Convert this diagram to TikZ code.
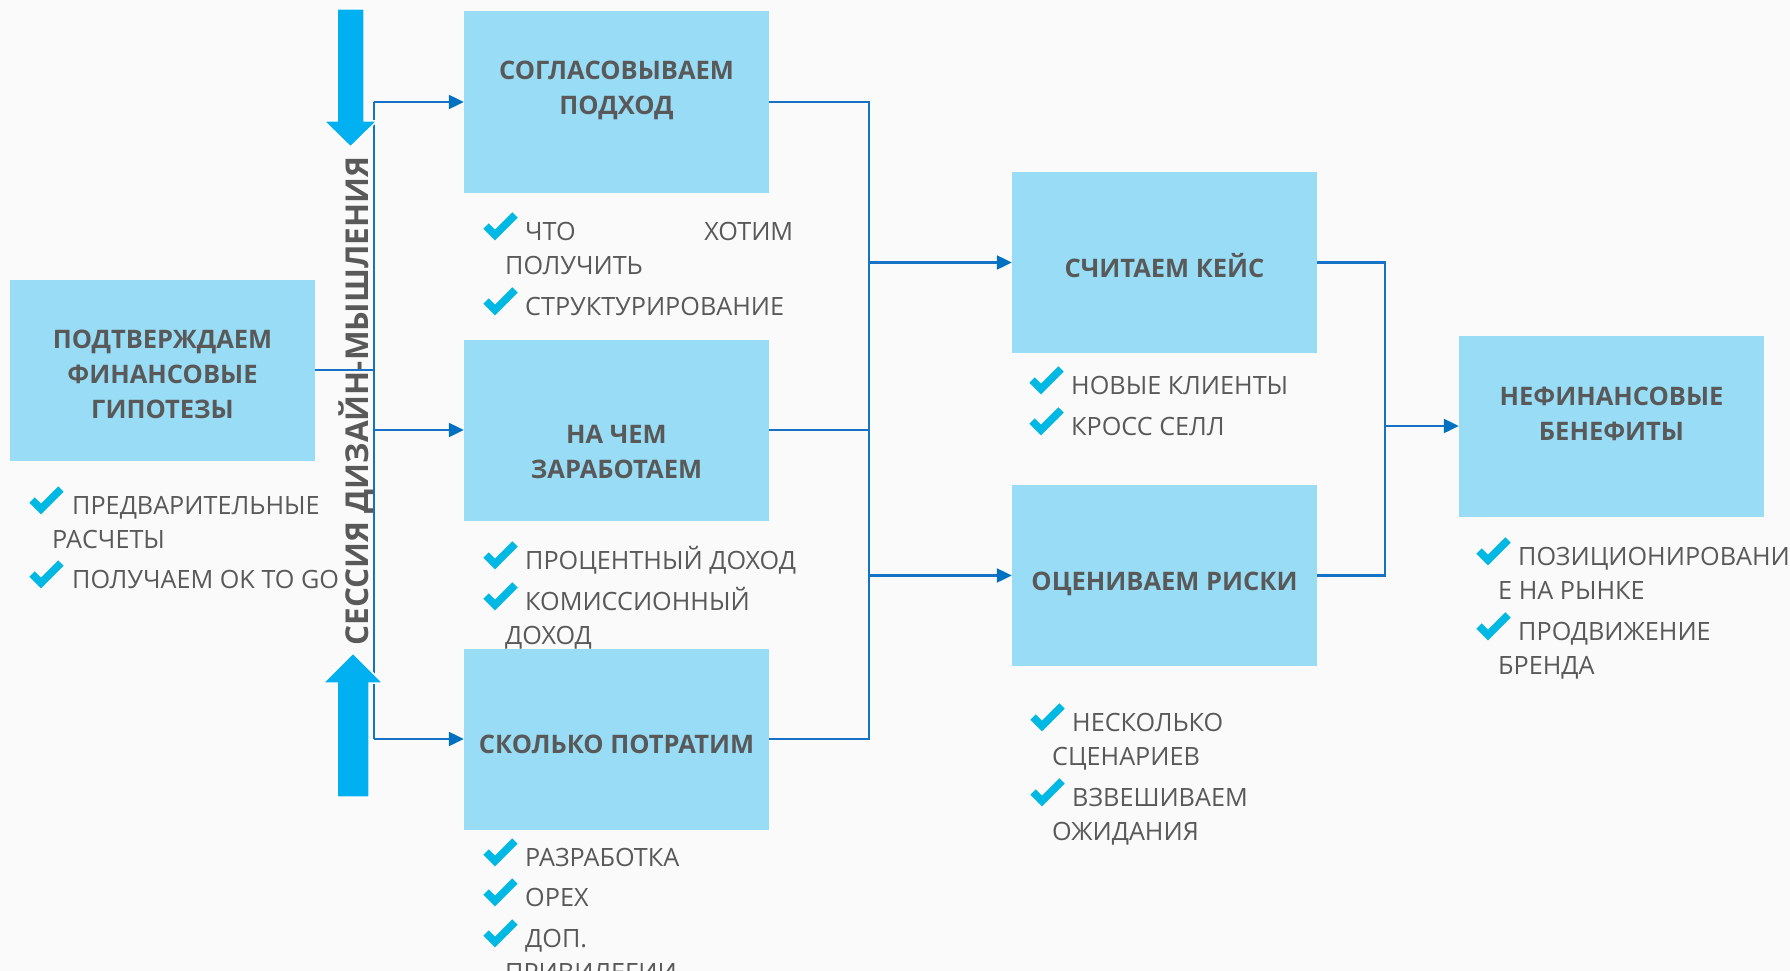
\documentclass[tikz,border=0pt]{standalone}
\usepackage{fontspec}
\setmainfont{Open Sans}
\usetikzlibrary{arrows.meta}
\definecolor{bgc}{HTML}{FAFAFA}
\definecolor{boxc}{HTML}{99DCF5}
\definecolor{txtc}{HTML}{595959}
\definecolor{linec}{HTML}{1672C4}
\definecolor{tipc}{HTML}{0070C0}
\definecolor{bigc}{HTML}{00B0F0}
\definecolor{chkc}{HTML}{00B8E4}
\newcommand\boxlines[1]{\vtop{\halign{\hfil##\hfil\cr#1\crcr}}}
\newcommand\itemlines[1]{\vtop{\halign{##\hfil\cr#1\crcr}}}
\newcommand\ind{\hspace*{20pt}}
\begin{document}
\begin{tikzpicture}[x=1pt,y=-1pt,
  box/.style={fill=boxc, minimum width=305pt, minimum height=181pt, inner sep=0pt, draw=none},
  boxtext/.style={anchor=base, inner sep=0pt, text=txtc, font=\fontsize{25.5}{35}\selectfont\bfseries},
  itemtext/.style={anchor=base west, inner sep=0pt, text=txtc, font=\fontsize{25.2}{34}\selectfont},
  conn/.style={draw=linec, line width=2.2pt},
  arr/.style={conn, -{Triangle[length=15pt,width=14pt,color=tipc]}},
  bigarrow/.style={fill=bigc, draw=white, line width=1.5pt},
  chk/.pic={\draw[chkc, line width=7.5pt, line join=miter] (3,13) -- (12,22) -- (32,2);}
]
\fill[bgc] (0,0) rectangle (1790,971);
\useasboundingbox (0,0) rectangle (1790,971);

% boxes
\node[box] (b0) at (162.5,370) {};
\node[box] (b1) at (616.5,102) {};
\node[box] (b2) at (616.5,430) {};
\node[box] (b3) at (616.5,739) {};
\node[box] (b4) at (1164.5,262.5) {};
\node[box] (b5) at (1164.5,575.5) {};
\node[box] (b6) at (1611.5,426) {};

% box labels
\node[boxtext] (t0) at (162.5,348) {\boxlines{ПОДТВЕРЖДАЕМ\cr ФИНАНСОВЫЕ\cr ГИПОТЕЗЫ}};
\node[boxtext] (t1) at (616.5,80) {\boxlines{СОГЛАСОВЫВАЕМ\cr ПОДХОД}};
\node[boxtext] (t2) at (616.5,443) {\boxlines{НА ЧЕМ\cr ЗАРАБОТАЕМ}};
\node[boxtext] (t3) at (616.5,753) {СКОЛЬКО ПОТРАТИМ};
\node[boxtext] (t4) at (1164.5,277) {СЧИТАЕМ КЕЙС};
\node[boxtext] (t5) at (1164.5,590) {ОЦЕНИВАЕМ РИСКИ};
\node[boxtext] (t6) at (1611.5,405) {\boxlines{НЕФИНАНСОВЫЕ\cr БЕНЕФИТЫ}};

% lists
\node[itemtext] (l0a) at (52,514) {\itemlines{\ind ПРЕДВАРИТЕЛЬНЫЕ\cr РАСЧЕТЫ}};
\node[itemtext] (l0b) at (52,588) {\ind ПОЛУЧАЕМ OK TO GO};
\pic at (29,487) {chk}; \pic at (29,561) {chk};

\node[itemtext] (l1a) at (505,240) {\itemlines{\ind\makebox[268pt][l]{ЧТО\hfill ХОТИМ}\cr ПОЛУЧИТЬ}};
\node[itemtext] (l1b) at (505,315) {\ind СТРУКТУРИРОВАНИЕ};
\pic at (483,213) {chk}; \pic at (483,288) {chk};

\node[itemtext] (l2a) at (505,569) {\ind ПРОЦЕНТНЫЙ ДОХОД};
\node[itemtext] (l2b) at (505,610) {\itemlines{\ind КОМИССИОННЫЙ\cr ДОХОД}};
\pic at (483,542) {chk}; \pic at (483,583) {chk};

\node[itemtext] (l3a) at (505,866) {\ind РАЗРАБОТКА};
\node[itemtext] (l3b) at (505,906) {\ind OPEX};
\node[itemtext] (l3c) at (505,947) {\itemlines{\ind ДОП.\cr ПРИВИЛЕГИИ}};
\pic at (483,839) {chk}; \pic at (483,879) {chk}; \pic at (483,920) {chk};

\node[itemtext] (l4a) at (1051,394) {\ind НОВЫЕ КЛИЕНТЫ};
\node[itemtext] (l4b) at (1051,435) {\ind КРОСС СЕЛЛ};
\pic at (1029,367) {chk}; \pic at (1029,408) {chk};

\node[itemtext] (l5a) at (1052,731) {\itemlines{\ind НЕСКОЛЬКО\cr СЦЕНАРИЕВ}};
\node[itemtext] (l5b) at (1052,806) {\itemlines{\ind ВЗВЕШИВАЕМ\cr ОЖИДАНИЯ}};
\pic at (1030,704) {chk}; \pic at (1030,779) {chk};

\node[itemtext] (l6a) at (1498,565) {\itemlines{\ind ПОЗИЦИОНИРОВАНИ\cr Е НА РЫНКЕ}};
\node[itemtext] (l6b) at (1498,640) {\itemlines{\ind ПРОДВИЖЕНИЕ\cr БРЕНДА}};
\pic at (1476,538) {chk}; \pic at (1476,613) {chk};

% vertical title
\node[rotate=90, anchor=base, inner sep=0pt, text=txtc, font=\fontsize{31.5}{38}\selectfont\bfseries] (vt) at (368,401) {СЕССИЯ ДИЗАЙН-МЫШЛЕНИЯ};

% connectors
\coordinate (jl) at (374,0);
\coordinate (jm) at (869,0);
\coordinate (jr) at (1385,0);
\draw[conn] (b0.east) -- (b0.east -| jl);
\draw[conn] (b1.west -| jl) -- (b3.west -| jl);
\draw[arr] (b1.west -| jl) -- (b1.west);
\draw[arr] (b2.west -| jl) -- (b2.west);
\draw[arr] (b3.west -| jl) -- (b3.west);
\draw[conn] (b1.east) -- (b1.east -| jm) -- (b3.east -| jm) -- (b3.east);
\draw[conn] (b2.east) -- (b2.east -| jm);
\draw[arr] (b4.west -| jm) -- (b4.west);
\draw[arr] (b5.west -| jm) -- (b5.west);
\draw[conn] (b4.east) -- (b4.east -| jr) -- (b5.east -| jr) -- (b5.east);
\draw[arr] (b6.west -| jr) -- (b6.west);

% big arrows
\draw[bigarrow] (337,9) -- (364,9) -- (364,121) -- (377,121) -- (350.5,147) -- (324,121) -- (337,121) -- cycle;
\draw[bigarrow] (337,797) -- (369,797) -- (369,683) -- (383,683) -- (353,653) -- (323,683) -- (337,683) -- cycle;
\end{tikzpicture}
\end{document}
